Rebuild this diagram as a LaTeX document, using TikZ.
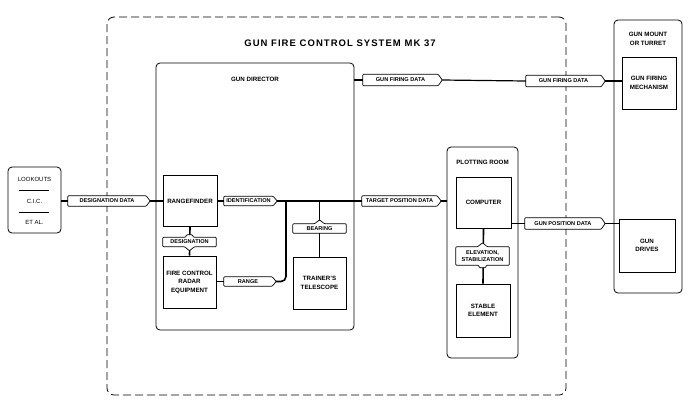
\documentclass[tikz,border=0pt]{standalone}
\usepackage{fontspec}
\setmainfont{Liberation Sans}
\begin{document}
\begin{tikzpicture}[x=1pt,y=-1pt]
\tikzset{
 box/.style={draw, line width=1pt, fill=white, align=center, inner sep=0pt, font=\bfseries\fontsize{6.2}{8.5}\selectfont},
 grp/.style={draw, line width=0.8pt, rounded corners=4pt, inner sep=0pt},
 grptxt/.style={inner sep=0pt, align=center, font=\bfseries\fontsize{6.2}{8.5}\selectfont},
 conn/.style={line width=1.6pt},
 tagframe/.style={inner sep=0pt},
 tagtxt/.style={inner sep=0pt, align=center, font=\bfseries\fontsize{5.6}{6.4}\selectfont},
 tagline/.style={draw, line width=0.7pt, fill=white, rounded corners=0.8pt, line join=round},
}
\newcommand\rtag[5]{%
 \node[tagframe, minimum width=#3, minimum height=#4] (#1) at (#2) {};
 \path[tagline] (#1.north west) -- ([xshift=-4pt]#1.north east) -- (#1.east) -- ([xshift=-4pt]#1.south east) -- (#1.south west) -- cycle;
 \node[tagtxt] (#1-t) at ([xshift=-2pt]#1.center) {#5};}
\useasboundingbox (0,0) rectangle (700,405);
\fill[white] (0,0) rectangle (700,405);
% outer system
\node[grp, dashed, dash pattern=on 8pt off 4pt, rounded corners=7pt, minimum width=459, minimum height=378] (sys) at (336.5,206) {};
\node[inner sep=0pt, font=\bfseries\fontsize{9.5}{11}\selectfont\addfontfeatures{LetterSpace=11}] (sys-t) at (340,43) {GUN FIRE CONTROL SYSTEM MK 37};
% groups
\node[grp, minimum width=53, minimum height=66] (lk) at (34.5,200) {};
\node[inner sep=0pt, font=\fontsize{6}{7}\selectfont] (lk1) at (34.5,179) {LOOKOUTS};
\node[inner sep=0pt, font=\fontsize{6}{7}\selectfont] (lk2) at (34.5,201) {C.I.C.};
\node[inner sep=0pt, font=\fontsize{6}{7}\selectfont] (lk3) at (34.5,222) {ET AL.};
\draw[line width=0.6pt] (19,190) -- (49,190);
\draw[line width=0.6pt] (19,212) -- (49,212);
\node[grp, minimum width=198, minimum height=267] (gd) at (255,196.5) {};
\node[grptxt] (gd-t) at (255,79) {GUN DIRECTOR};
\node[grp, minimum width=71, minimum height=211] (pr) at (482.5,252.5) {};
\node[grptxt] (pr-t) at (482.5,162) {PLOTTING ROOM};
\node[grp, minimum width=68, minimum height=273] (gmt) at (648,156.5) {};
\node[grptxt] (gmt-t) at (648,39) {GUN MOUNT\\OR TURRET};
% boxes
\node[box, minimum width=54, minimum height=51] (rf) at (190,201) {RANGEFINDER};
\node[box, minimum width=53, minimum height=52] (fcr) at (189.5,282) {FIRE CONTROL\\RADAR\\EQUIPMENT};
\node[box, minimum width=53, minimum height=52] (tt) at (319.5,283) {TRAINER'S\\TELESCOPE};
\node[box, minimum width=55, minimum height=51] (cmp) at (483.5,202.5) {COMPUTER};
\node[box, minimum width=54, minimum height=53] (se) at (483,310.5) {STABLE\\ELEMENT};
\node[box, minimum width=54, minimum height=52] (gfm) at (649,83) {GUN FIRING\\MECHANISM};
\node[box, minimum width=56, minimum height=53] (gdr) at (647,245.5) {GUN\\DRIVES};
% tags
\rtag{dd}{109,201}{82}{10}{DESIGNATION DATA}
\rtag{idt}{250.5,201}{53}{9}{IDENTIFICATION}
\rtag{tpd}{401.5,201}{79}{10}{TARGET POSITION DATA}
\rtag{rng}{250,281.5}{52}{9}{RANGE}
\rtag{gfd1}{402.5,80}{79}{11}{GUN FIRING DATA}
\rtag{gfd2}{565.5,81}{79}{11}{GUN FIRING DATA}
\rtag{gpd}{565,223.5}{80}{11}{GUN POSITION DATA}
% connectors
\draw[conn] (lk.east |- dd.west) -- (dd.west);
\draw[conn] (dd.east) -- (rf.west |- dd.east);
\draw[conn] (rf.east |- idt.west) -- (idt.west);
\draw[conn] (idt.east) -- (tpd.west);
\draw[conn] (tpd.east) -- (pr.west |- tpd.east);
\coordinate (j1) at (286,201);
\coordinate (j2) at (tt.north |- idt.east);
\draw[conn, rounded corners=5pt] (rng.east) -| (j1);
\draw[conn] (j2) -- (tt.north);
\draw[conn] (rf.south) -- (fcr.north);
\draw[conn] (fcr.east |- rng.west) -- (rng.west);
\draw[conn] (gd.east |- gfd1.west) -- (gfd1.west);
\draw[line width=1.2pt] (gfd1.east) -- (gfd2.west);
\draw[conn] (gfd2.east) -- (gfm.west |- gfd2.east);
\draw[conn] (cmp.south) -- (se.north);
\draw[conn] (cmp.east |- gpd.west) -- (gpd.west);
\draw[conn] (gpd.east) -- (gdr.west |- gpd.east);
% vertical labels
\node[tagframe, minimum width=53, minimum height=9] (dsg) at (189.5,242) {};
\path[tagline] (dsg.north west) -- ([xshift=-4pt]dsg.north) -- ([xshift=-3pt,yshift=2.5pt]dsg.north) -- ([xshift=3pt,yshift=2.5pt]dsg.north) -- ([xshift=4pt]dsg.north) -- (dsg.north east) -- (dsg.south east) -- ([xshift=5pt]dsg.south) -- ([yshift=-4pt]dsg.south) -- ([xshift=-5pt]dsg.south) -- (dsg.south west) -- cycle;
\node[tagtxt] (dsg-t) at (dsg.center) {DESIGNATION};
\node[tagframe, minimum width=53, minimum height=9] (brg) at (319.5,228.5) {};
\path[tagline] (brg.north west) -- ([xshift=-5pt]brg.north) -- ([yshift=4pt]brg.north) -- ([xshift=5pt]brg.north) -- (brg.north east) -- (brg.south east) -- (brg.south west) -- cycle;
\node[tagtxt] (brg-t) at (brg.center) {BEARING};
\node[tagframe, minimum width=53, minimum height=18] (elv) at (482.5,256) {};
\path[tagline] (elv.north west) -- ([xshift=-5pt]elv.north) -- ([yshift=4pt]elv.north) -- ([xshift=5pt]elv.north) -- (elv.north east) -- (elv.south east) -- ([xshift=4pt]elv.south) -- ([xshift=3pt,yshift=-2.5pt]elv.south) -- ([xshift=-3pt,yshift=-2.5pt]elv.south) -- ([xshift=-4pt]elv.south) -- (elv.south west) -- cycle;
\node[tagtxt] (elv-t) at (elv.center) {ELEVATION,\\STABILIZATION};
\end{tikzpicture}
\end{document}
